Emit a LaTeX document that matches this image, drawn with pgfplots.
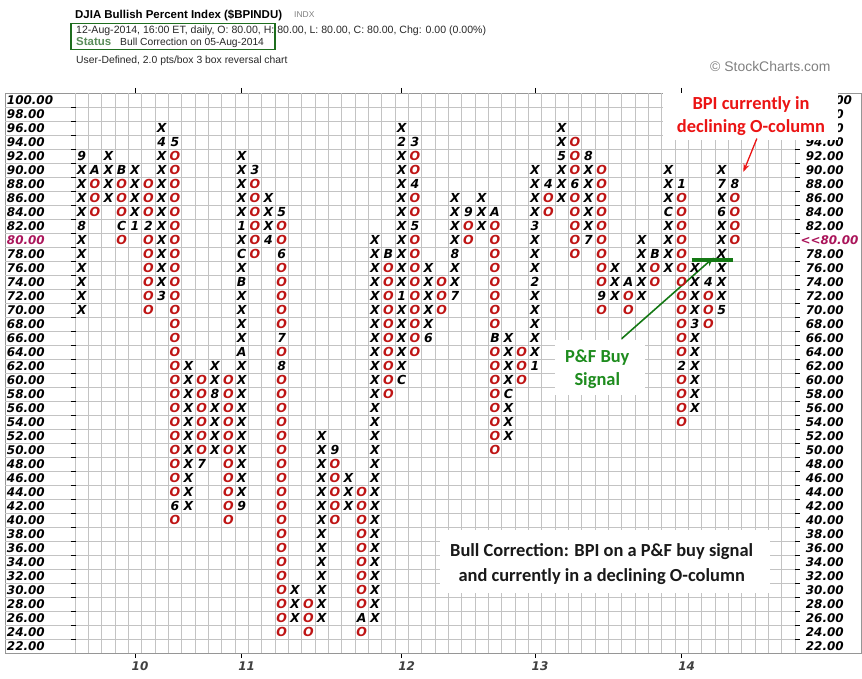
\documentclass[border=0pt]{standalone}
\usepackage{pgfplots}
\pgfplotsset{compat=1.18}
\usepackage{pgfplotstable}
\usepackage{fontspec}
\setmainfont{Liberation Sans}
\newfontfamily\dvs{DejaVu Sans}
\newfontfamily\calib{Carlito}
\usetikzlibrary{arrows.meta}

\definecolor{ored}{RGB}{190,20,20}
\definecolor{gridgray}{RGB}{195,195,195}
\definecolor{framegray}{RGB}{150,150,150}
\definecolor{curmag}{RGB}{170,20,90}
\definecolor{annred}{RGB}{235,20,20}
\definecolor{anngreen}{RGB}{30,140,30}
\definecolor{siggreen}{RGB}{20,120,20}
\definecolor{boxgreen}{RGB}{30,110,30}
\definecolor{statgreen}{RGB}{90,140,90}

\newcommand\pnf{\dvs\bfseries\itshape\fontsize{12.5}{12.5}\selectfont}
\newcommand\axf{\dvs\bfseries\itshape\fontsize{12}{12}\selectfont}
\newcommand\annf{\calib\bfseries\fontsize{18.5}{20}\selectfont}

% month markers: column, box, month code
\pgfplotstableread{
col val m
1 82 8
1 92 9
2 90 A
4 90 B
4 82 C
5 82 1
6 82 2
7 72 3
7 94 4
8 94 5
8 42 6
10 48 7
11 58 8
13 42 9
13 64 A
13 74 B
13 78 C
13 82 1
14 90 3
15 80 4
16 84 5
16 78 6
16 66 7
16 62 8
20 50 9
22 26 A
24 78 B
25 60 C
25 72 1
25 94 2
26 94 3
26 88 4
26 82 5
27 66 6
29 72 7
29 78 8
30 84 9
32 84 A
32 66 B
33 58 C
35 62 1
35 74 2
35 82 3
36 88 4
37 92 5
38 88 6
39 80 7
39 92 8
40 72 9
42 74 A
44 78 B
45 84 C
46 88 1
46 62 2
47 68 3
48 74 4
49 70 5
49 84 6
49 88 7
50 88 8
}\months

\begin{document}
\begin{tikzpicture}
\path[use as bounding box] (0,0) rectangle (862bp,679bp);
\begin{axis}[
  at={(5bp,26bp)}, anchor=south west,
  scale only axis, width=856bp, height=560bp,
  xmin=-4.75, xmax=59.45, ymin=21, ymax=101,
  axis line style={framegray, line width=0.8pt},
  xtick={5,13,25,35,46}, xticklabels={10,11,12,13,14},
  ytick=\empty,
  tick align=outside, major tick length=5bp,
  xtick style={black, line width=0.8pt},
  xticklabel style={font=\axf, text=black!75, xshift=5bp},
  every node near coord/.append style={anchor=center, inner sep=0pt},
]
% grid
\pgfplotsinvokeforeach{0.5,1.5,...,54.5}{
  \draw[gridgray, line width=0.6pt] (axis cs:#1,21) -- (axis cs:#1,101);
}
\pgfplotsinvokeforeach{23,25,...,99}{
  \draw[gridgray, line width=0.6pt] (axis cs:-4.75,#1) -- (axis cs:54.5,#1);
  \draw[black, line width=0.8pt] (axis cs:0.2,#1) -- (axis cs:0.55,#1);
  \draw[black, line width=0.8pt] (axis cs:54.5,#1) -- (axis cs:54.9,#1);
}
% price scale
\pgfplotsinvokeforeach{22,24,...,78,82,84,...,100}{
  \node[anchor=west, inner sep=0pt, font=\axf] at (axis cs:-4.62,#1) {#1.00};
  \node[anchor=west, inner sep=0pt, font=\axf] at (axis cs:55.3,#1) {#1.00};
}
\node[anchor=west, inner sep=0pt, font=\axf, text=curmag] at (axis cs:-4.62,80) {80.00};
\node[anchor=west, inner sep=0pt, font=\axf, text=curmag] at (axis cs:54.9,80) {<{}<80.00};

% X columns
\addplot[draw=none, nodes near coords={X},
  every node near coord/.append style={font=\pnf, text=black}] coordinates {
(1,70) (1,72) (1,74) (1,76) (1,78) (1,80) (1,84) (1,86) (1,88) (1,90)
(3,86) (3,88) (3,90) (3,92)
(5,84) (5,86) (5,88) (5,90)
(7,74) (7,76) (7,78) (7,80) (7,82) (7,84) (7,86) (7,88) (7,90) (7,92) (7,96)
(9,42) (9,44) (9,46) (9,48) (9,50) (9,52) (9,54) (9,56) (9,58) (9,60) (9,62)
(11,50) (11,52) (11,54) (11,56) (11,60) (11,62)
(13,44) (13,46) (13,48) (13,50) (13,52) (13,54) (13,56) (13,58) (13,60) (13,62)
(13,66) (13,68) (13,70) (13,72) (13,76) (13,80) (13,84) (13,86) (13,88) (13,90) (13,92)
(15,82) (15,84) (15,86)
(17,26) (17,28) (17,30)
(19,26) (19,28) (19,30) (19,32) (19,34) (19,36) (19,38) (19,40) (19,42) (19,44)
(19,46) (19,48) (19,50) (19,52)
(21,42) (21,44) (21,46)
(23,26) (23,28) (23,30) (23,32) (23,34) (23,36) (23,38) (23,40) (23,42) (23,44)
(23,46) (23,48) (23,50) (23,52) (23,54) (23,56) (23,58) (23,60) (23,62) (23,64)
(23,66) (23,68) (23,70) (23,72) (23,74) (23,76) (23,78) (23,80)
(25,62) (25,64) (25,66) (25,68) (25,70) (25,74) (25,76) (25,78) (25,80) (25,82)
(25,84) (25,86) (25,88) (25,90) (25,92) (25,96)
(27,68) (27,70) (27,72) (27,74) (27,76)
(29,74) (29,76) (29,80) (29,82) (29,84) (29,86)
(31,82) (31,84) (31,86)
(33,52) (33,54) (33,56) (33,60) (33,62) (33,64) (33,66)
(35,64) (35,66) (35,68) (35,70) (35,72) (35,76) (35,78) (35,80) (35,84) (35,86) (35,88) (35,90)
(37,86) (37,88) (37,90) (37,94) (37,96)
(39,82) (39,84) (39,86) (39,88) (39,90)
(41,72) (41,74) (41,76)
(43,72) (43,74) (43,76) (43,78) (43,80)
(45,76) (45,78) (45,80) (45,82) (45,86) (45,88) (45,90)
(47,56) (47,58) (47,60) (47,62) (47,64) (47,66) (47,70) (47,72) (47,74) (47,76)
(49,72) (49,74) (49,76) (49,78) (49,80) (49,82) (49,86) (49,90)
};
% O columns
\addplot[draw=none, nodes near coords={O},
  every node near coord/.append style={font=\pnf, text=ored}] coordinates {
(2,84) (2,86) (2,88)
(4,80) (4,84) (4,86) (4,88)
(6,70) (6,72) (6,74) (6,76) (6,78) (6,80) (6,84) (6,86) (6,88)
(8,40) (8,44) (8,46) (8,48) (8,50) (8,52) (8,54) (8,56) (8,58) (8,60) (8,62) (8,64)
(8,66) (8,68) (8,70) (8,72) (8,74) (8,76) (8,78) (8,80) (8,82) (8,84) (8,86) (8,88)
(8,90) (8,92)
(10,50) (10,52) (10,54) (10,56) (10,58) (10,60)
(12,40) (12,42) (12,44) (12,46) (12,48) (12,50) (12,52) (12,54) (12,56) (12,58) (12,60)
(14,78) (14,80) (14,82) (14,84) (14,86) (14,88)
(16,24) (16,26) (16,28) (16,30) (16,32) (16,34) (16,36) (16,38) (16,40) (16,42)
(16,44) (16,46) (16,48) (16,50) (16,52) (16,54) (16,56) (16,58) (16,60) (16,64)
(16,68) (16,70) (16,72) (16,74) (16,76) (16,80) (16,82)
(18,24) (18,26) (18,28)
(20,40) (20,42) (20,44) (20,46) (20,48)
(22,24) (22,28) (22,30) (22,32) (22,34) (22,36) (22,38) (22,40) (22,42) (22,44)
(24,58) (24,60) (24,62) (24,64) (24,66) (24,68) (24,70) (24,72) (24,74) (24,76)
(26,64) (26,66) (26,68) (26,70) (26,72) (26,74) (26,76) (26,78) (26,80) (26,84)
(26,86) (26,90) (26,92)
(28,70) (28,72) (28,74)
(30,80) (30,82)
(32,50) (32,52) (32,54) (32,56) (32,58) (32,60) (32,62) (32,64) (32,68) (32,70)
(32,72) (32,74) (32,76) (32,78) (32,80) (32,82)
(34,60) (34,62) (34,64)
(36,84) (36,86)
(38,78) (38,80) (38,82) (38,84) (38,86) (38,90) (38,92) (38,94)
(40,70) (40,74) (40,76) (40,78) (40,80) (40,82) (40,84) (40,86) (40,88) (40,90)
(42,70) (42,72)
(44,74) (44,76)
(46,54) (46,56) (46,58) (46,60) (46,64) (46,66) (46,68) (46,70) (46,72) (46,74)
(46,76) (46,78) (46,80) (46,82) (46,84) (46,86)
(48,68) (48,70) (48,72)
(50,80) (50,82) (50,84) (50,86)
};
% month codes
\addplot[draw=none, nodes near coords, point meta=explicit symbolic,
  every node near coord/.append style={font=\pnf, text=black}]
  table[x=col, y=val, meta=m] {\months};

% buy signal
\draw[siggreen, line width=4.5bp] (axis cs:46.74,77.15) -- (axis cs:49.84,77.15);
\draw[siggreen, line width=1.6pt, -{Stealth[length=9bp,width=7bp]}]
  (axis cs:41.5,65.9) -- (axis cs:48.4,77.5);
\fill[white] (axis cs:36.5,57.8) rectangle (axis cs:43.26,65.67);
\node[font=\annf, text=anngreen, inner sep=0pt] at (axis cs:39.67,63.23) {P\&F Buy};
\node[font=\annf, text=anngreen, inner sep=0pt] at (axis cs:39.67,59.94) {Signal};

% current column note
\fill[white] (axis cs:44.6,94.3) rectangle (axis cs:57.7,101);
\node[font=\annf, text=annred, inner sep=0pt] at (axis cs:51.2,99.43) {BPI currently in};
\node[font=\annf, text=annred, inner sep=0pt] at (axis cs:51.2,96.07) {declining O-column};
\draw[annred, line width=1.3pt, -{Stealth[length=8bp,width=6bp]}]
  (axis cs:51.64,94.5) -- (axis cs:50.63,89.74);

% status note
\fill[white] (axis cs:27.9,29.6) rectangle (axis cs:52.6,38.5);
\node[font=\annf, text=black!90, inner sep=0pt] at (axis cs:40,35.48) {Bull Correction: BPI on a P\&F buy signal};
\node[font=\annf, text=black!90, inner sep=0pt] at (axis cs:40,31.9) {and currently in a declining O-column};
\end{axis}

% header
\node[anchor=base west, inner sep=0pt, font=\bfseries\fontsize{11.5}{12}\selectfont] at (75bp,660.5bp) {DJIA Bullish Percent Index (\$BPINDU)};
\node[anchor=base west, inner sep=0pt, font=\fontsize{8.5}{9}\selectfont, text=gray] at (294bp,661bp) {INDX};
\node[anchor=base west, inner sep=0pt, font=\fontsize{10.6}{11}\selectfont, text=black!85] at (76bp,645.7bp) {12-Aug-2014, 16:00 ET, daily, O: 80.00, H: 80.00, L: 80.00, C: 80.00, Chg: 0.00 (0.00\%)};
\node[anchor=base west, inner sep=0pt, font=\bfseries\fontsize{11.5}{12}\selectfont, text=statgreen] at (76bp,633.3bp) {Status};
\node[anchor=base west, inner sep=0pt, font=\fontsize{10.3}{11}\selectfont, text=black!85] at (120bp,633.5bp) {Bull Correction on 05-Aug-2014};
\draw[boxgreen, line width=1.5bp] (71bp,655.7bp) rectangle (275bp,629.7bp);
\node[anchor=base west, inner sep=0pt, font=\fontsize{10.4}{11}\selectfont, text=black!85] at (76bp,615.5bp) {User-Defined, 2.0 pts/box 3 box reversal chart};
\node[anchor=base west, inner sep=0pt, font=\fontsize{14}{14}\selectfont, text=black!50] at (710bp,607.3bp) {\textcopyright{} StockCharts.com};
\end{tikzpicture}
\end{document}
